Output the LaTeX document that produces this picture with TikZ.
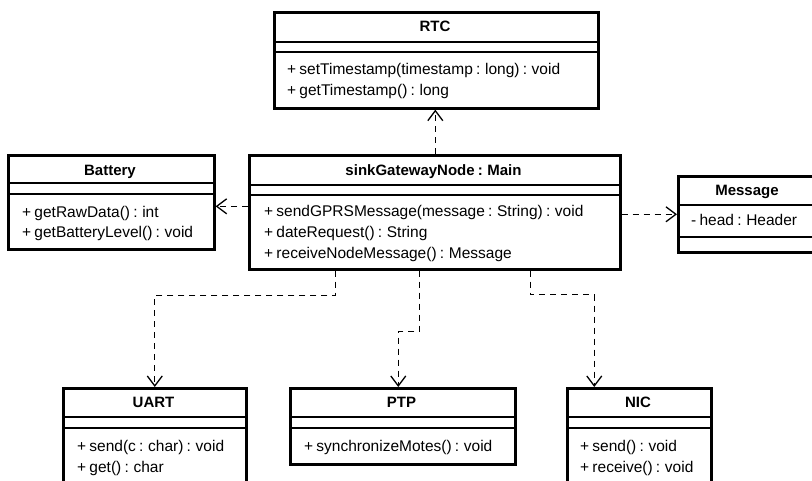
\documentclass[tikz,border=0pt]{standalone}
\usepackage{fontspec}
\setmainfont[WordSpace=0.75]{Liberation Sans}
\usetikzlibrary{arrows.meta}

\tikzset{
  classbox/.style={draw=black, line width=2.6pt, fill=white, inner sep=0pt, anchor=north west},
  divider/.style={draw=black, line width=1.2pt},
  classtitle/.style={font=\fontsize{15}{18}\selectfont\bfseries, inner sep=0pt, text height=11pt, text depth=3pt},
  member/.style={font=\fontsize{15.5}{18}\selectfont, inner sep=0pt, anchor=west, text height=11pt, text depth=3pt},
  dep/.style={draw=black, line width=1.3pt, dash pattern=on 6pt off 5pt,
    -{Straight Barb[length=10pt, width=15pt, line width=1.3pt]}}
}

\begin{document}
\begin{tikzpicture}[x=1pt, y=-1pt]
\useasboundingbox (0,0) rectangle (812,481);
\clip (0,0) rectangle (812,481);
\fill[white] (0,0) rectangle (812,481);

% RTC
\node[classbox, minimum width=324pt, minimum height=96pt] (rtc) at (273,11) {};
\draw[divider] (273,42) -- (597,42) (273,52) -- (597,52);
\node[classtitle] (rtcT) at (435,28) {RTC};
\node[member] (rtcM1) at (287,71) {+ setTimestamp(timestamp : long) : void};
\node[member] (rtcM2) at (287,92) {+ getTimestamp() : long};

% sinkGatewayNode : Main
\node[classbox, minimum width=371pt, minimum height=114pt] (main) at (248,154) {};
\draw[divider] (248,185) -- (619,185) (248,195) -- (619,195);
\node[classtitle] (mainT) at (433.5,172) {sinkGatewayNode : Main};
\node[member] (mainM1) at (264,213) {+ sendGPRSMessage(message : String) : void};
\node[member] (mainM2) at (264,234) {+ dateRequest() : String};
\node[member] (mainM3) at (264,255) {+ receiveNodeMessage() : Message};

% Battery
\node[classbox, minimum width=206pt, minimum height=94pt] (battery) at (7,154) {};
\draw[divider] (7,183) -- (213,183) (7,194) -- (213,194);
\node[classtitle] (batteryT) at (110,172) {Battery};
\node[member] (batteryM1) at (22,214) {+ getRawData() : int};
\node[member] (batteryM2) at (22,234) {+ getBatteryLevel() : void};

% Message
\node[classbox, minimum width=141pt, minimum height=76pt] (message) at (677,175) {};
\draw[divider] (677,205) -- (818,205) (677,237) -- (818,237);
\node[classtitle] (messageT) at (747,192) {Message};
\node[member] (messageM1) at (691,222) {- head : Header};

% UART
\node[classbox, minimum width=183pt, minimum height=120pt] (uart) at (62,387) {};
\draw[divider] (62,417) -- (245,417) (62,428) -- (245,428);
\node[classtitle] (uartT) at (153.5,403) {UART};
\node[member] (uartM1) at (77,447) {+ send(c : char) : void};
\node[member] (uartM2) at (77,468) {+ get() : char};

% PTP
\node[classbox, minimum width=225pt, minimum height=76pt] (ptp) at (289,387) {};
\draw[divider] (289,417) -- (514,417) (289,428) -- (514,428);
\node[classtitle] (ptpT) at (401.5,403) {PTP};
\node[member] (ptpM1) at (304,447) {+ synchronizeMotes() : void};

% NIC
\node[classbox, minimum width=144pt, minimum height=120pt] (nic) at (566,387) {};
\draw[divider] (566,417) -- (710,417) (566,428) -- (710,428);
\node[classtitle] (nicT) at (638,403) {NIC};
\node[member] (nicM1) at (580,447) {+ send() : void};
\node[member] (nicM2) at (580,468) {+ receive() : void};

% dependencies
\draw[dep] ([xshift=0.5pt]main.north) -- ([xshift=0.5pt]main.north |- rtc.south);
\draw[dep] ([yshift=6pt]main.west) -- ([yshift=6pt]main.west -| battery.east);
\draw[dep] ([yshift=-2pt]main.east) -- ([yshift=-2pt]main.east -| message.west);
\draw[dep] ([xshift=-99.5pt]main.south) -- ++(0,25) -| (uart.north);
\draw[dep] ([xshift=-15.5pt]main.south) -- ++(0,61) -| ([xshift=-4.5pt]ptp.north);
\draw[dep] ([xshift=95.5pt]main.south) -- ++(0,24) -| ([xshift=-45pt]nic.north);
\end{tikzpicture}
\end{document}
